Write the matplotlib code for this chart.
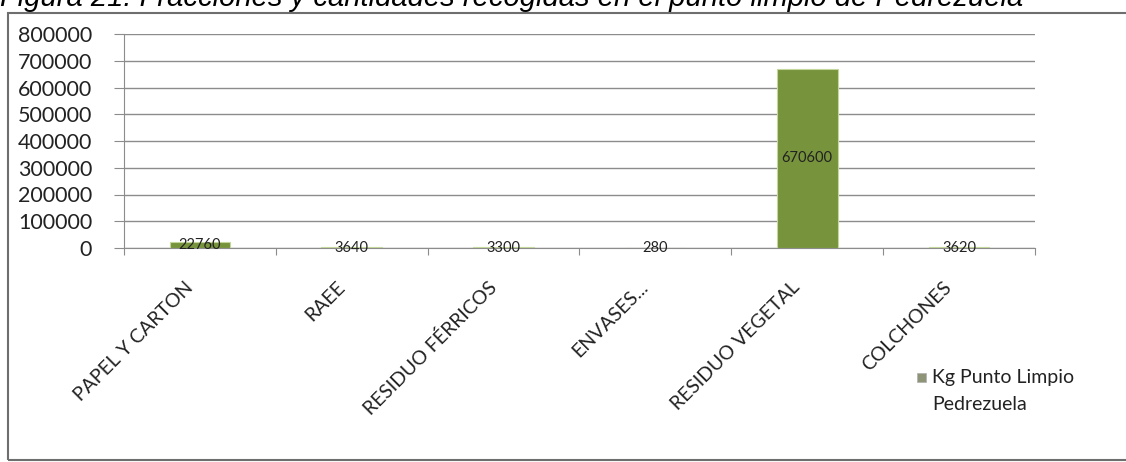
import matplotlib.pyplot as plt
from matplotlib.patches import Rectangle
from matplotlib.transforms import ScaledTranslation

categorias = ['PAPEL Y CARTON', 'RAEE', 'RESIDUO FÉRRICOS', 'ENVASES...', 'RESIDUO VEGETAL', 'COLCHONES']
kg = [22760, 3640, 3300, 280, 670600, 3620]
yticks = [0, 100000, 200000, 300000, 400000, 500000, 600000, 700000, 800000]

plt.rcParams['font.family'] = ['Lato', 'DejaVu Sans']

W, H = 1126, 462
fig = plt.figure(figsize=(W / 100, H / 100), dpi=100)

# marco del gráfico y título cortado
fig.patches.append(Rectangle((8 / W, 2 / H), 1.0, 1 - 15 / H, transform=fig.transFigure,
                             fill=False, edgecolor='#6e6e6e', linewidth=1.5))
fig.text(0.0, 1 - 6 / H, 'Figura 21: Fracciones y cantidades recogidas en el punto limpio de Pedrezuela',
         fontsize=21, style='italic', family='Liberation Sans', va='baseline', ha='left')

ax = fig.add_axes([124 / W, 1 - 248 / H, (1035 - 124) / W, (248 - 34) / H])
x = range(len(categorias))
ax.bar(x, kg, width=0.4, color='#77933c', edgecolor='#c4d79b', linewidth=0.8, zorder=3)

for xi, v in zip(x, kg):
    ax.text(xi, v / 2, str(v), ha='center', va='center', fontsize=10.5, color='#222222', zorder=4)

ax.set_xlim(-0.5, len(categorias) - 0.5)
ax.set_ylim(0, 800000)
ax.set_yticks(yticks)
ax.set_yticklabels([str(t) for t in yticks], fontsize=15.5, color='#222222')
ax.yaxis.grid(True, color='#8c8c8c', linewidth=1)
ax.set_axisbelow(True)
ax.set_xticks([i - 0.5 for i in range(len(categorias) + 1)], minor=False)
ax.set_xticklabels([])
ax.set_xticks(list(x), minor=True)
ax.set_xticklabels(categorias, minor=True, rotation=45, ha='right', rotation_mode='anchor',
                   fontsize=14, color='#222222')
ax.tick_params(axis='x', which='minor', length=0, pad=22)
ax.tick_params(axis='x', which='major', length=5, color='#8c8c8c')
ax.tick_params(axis='y', length=7, color='#8c8c8c', pad=16)
desplaz = ScaledTranslation(-16 / 100, 0, fig.dpi_scale_trans)
for lab in ax.get_xticklabels(minor=True):
    lab.set_transform(lab.get_transform() + desplaz)
for s in ['top', 'right']:
    ax.spines[s].set_visible(False)
ax.spines['left'].set_color('#8c8c8c')
ax.spines['bottom'].set_color('#8c8c8c')

# leyenda
fig.patches.append(Rectangle((917 / W, 1 - 382 / H), 9 / W, 9 / H, transform=fig.transFigure,
                             facecolor='#8d9478', edgecolor='#b0b0b0', linewidth=0.5))
fig.text(932 / W, 1 - 377 / H, 'Kg Punto Limpio', fontsize=14, va='center', color='#222222')
fig.text(932 / W, 1 - 405 / H, 'Pedrezuela', fontsize=14, va='center', color='#222222')

fig.savefig('out.png', dpi=100)
